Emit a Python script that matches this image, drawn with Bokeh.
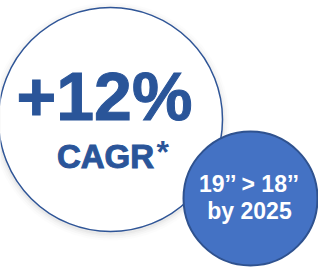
from bokeh.plotting import figure
from bokeh.models import Range1d
from bokeh.core.properties import value
from bokeh.embed import file_html
from bokeh.resources import INLINE

# Content
headline = ["+12%"]
metric = ["CAGR"]
footnote_mark = ["*"]
badge_lines = ["19’’ > 18’’", "by 2025"]

FONT = value("Liberation Sans")
DARK_BLUE = "#2A5599"

p = figure(width=318, height=268, output_backend="svg", toolbar_location=None,
           x_range=Range1d(0, 318), y_range=Range1d(268, 0), min_border=0)
p.axis.visible = False
p.grid.visible = False
p.outline_line_color = None
p.background_fill_color = "white"
p.border_fill_color = "white"

# soft shadow of big circle
for dr, a in [(7, 0.025), (5, 0.035), (3, 0.045), (1.5, 0.06)]:
    p.circle(x=[110], y=[121], radius=112 + dr, fill_color="#7f7f7f", fill_alpha=a, line_color=None)

# big white circle
p.circle(x=[110], y=[119], radius=112, fill_color="white", line_color="#2F5597", line_width=1.5)

# headline texts
p.text(x=[104], y=[95.5], text=headline, text_font=FONT, text_font_style="bold",
       text_font_size="68px", text_color=DARK_BLUE, text_align="center", text_baseline="alphabetic",
       text_outline_color=DARK_BLUE)
p.text(x=[105], y=[156], text=metric, text_font=FONT, text_font_style="bold",
       text_font_size="33px", text_color=DARK_BLUE, text_align="center", text_baseline="alphabetic",
       text_outline_color=DARK_BLUE)
p.text(x=[156], y=[151.5], text=footnote_mark, text_font=FONT, text_font_style="bold",
       text_font_size="32px", text_color=DARK_BLUE, text_align="left", text_baseline="alphabetic")

# small blue badge
p.circle(x=[250], y=[198], radius=67, fill_color="#4472C4", line_color="#2F528F", line_width=2)
p.text(x=[249, 249], y=[183.7, 210.7], text=badge_lines, text_font=FONT, text_font_style="bold",
       text_font_size="23px", text_color="white", text_align="center", text_baseline="alphabetic")

open("out.html", "w").write(file_html(p, INLINE))
